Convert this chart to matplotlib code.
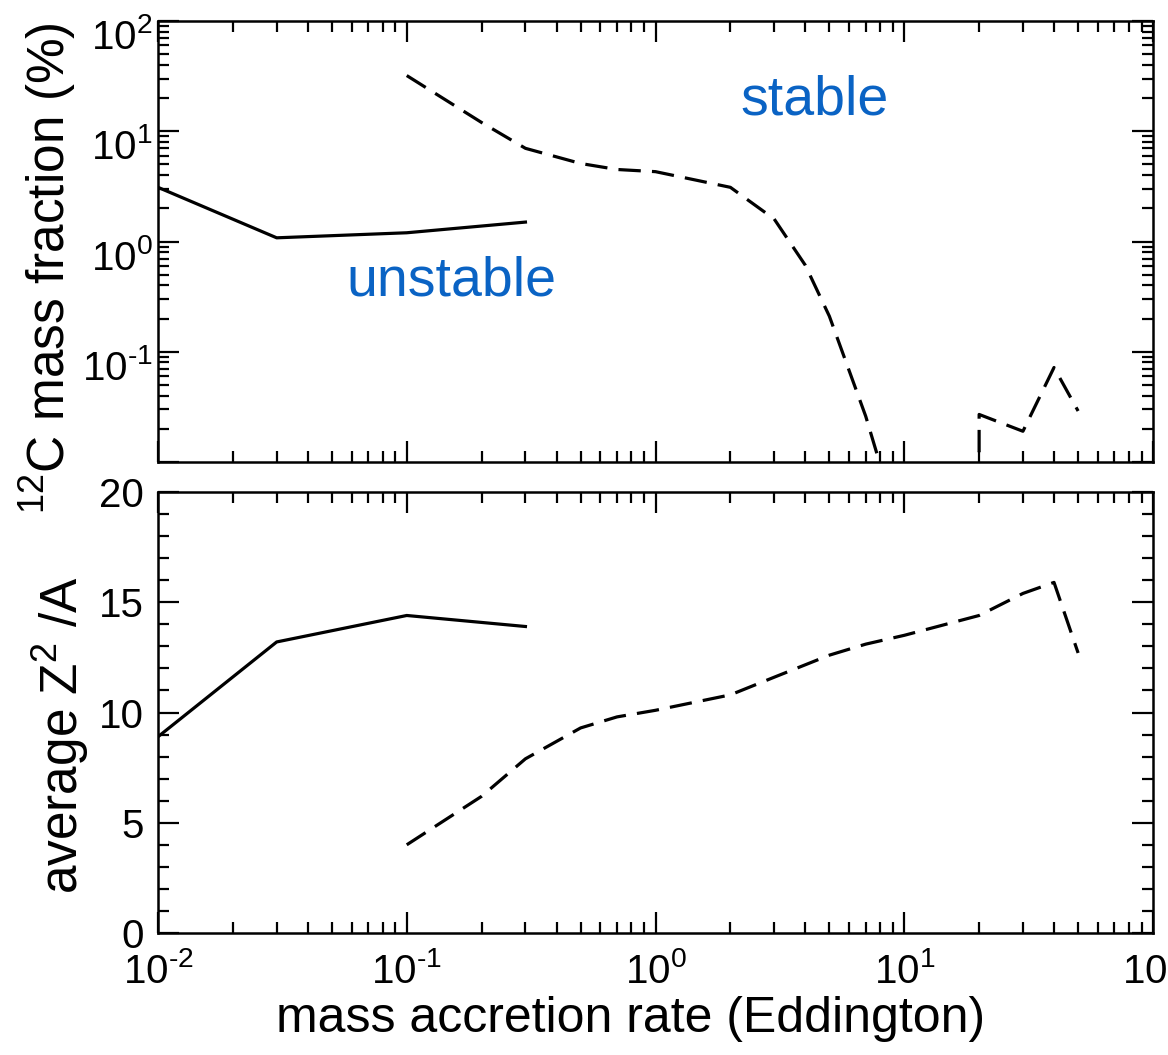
import numpy as np
import matplotlib
matplotlib.use('Agg')
import matplotlib.pyplot as plt
from matplotlib.ticker import FixedLocator, LogLocator, MultipleLocator, NullFormatter, FixedFormatter
from matplotlib.transforms import ScaledTranslation

plt.rcParams['font.family'] = ['Liberation Sans', 'DejaVu Sans']
plt.rcParams['mathtext.fontset'] = 'custom'
plt.rcParams['mathtext.rm'] = 'Liberation Sans'
plt.rcParams['mathtext.default'] = 'regular'

# верхняя панель: доля 12C (%)
unstable_rate = [0.01, 0.03, 0.1, 0.3]
unstable_c12 = [3.1, 1.08, 1.2, 1.5]
stable_rate = [0.1, 0.2, 0.3, 0.5, 0.7, 1, 2, 3, 4, 5, 7, 8, 10, 15, 20, 30, 40, 50]
stable_c12 = [32, 12, 7.0, 5.1, 4.5, 4.3, 3.1, 1.6, 0.61, 0.21, 0.026, 0.0095, 0, 0,
              0.027, 0.019, 0.072, 0.029]

# нижняя панель: средний Z^2/A
unstable_z2a = [8.9, 13.2, 14.4, 13.9]
stable_rate2 = [0.1, 0.2, 0.3, 0.5, 0.7, 1, 2, 3, 5, 7, 10, 20, 30, 40, 50]
stable_z2a = [4.0, 6.2, 7.9, 9.3, 9.8, 10.1, 10.8, 11.6, 12.6, 13.1, 13.5, 14.4, 15.4, 15.9, 12.7]

x_ticks = [1e-2, 1e-1, 1e0, 1e1, 1e2]
x_labels = [r'$10^{\text{-}2}$', r'$10^{\text{-}1}$', '$10^{0}$', '$10^{1}$', '$10^{2}$']
y_ticks_top = [1e-2, 1e-1, 1e0, 1e1, 1e2]
y_labels_top = ['', r'$10^{\text{-}1}$', '$10^{0}$', '$10^{1}$', '$10^{2}$']

W, H = 1168, 1055
fig = plt.figure(figsize=(W / 100, H / 100), dpi=100)
left, right = 158, 1153
ax1 = fig.add_axes([left / W, 1 - 462 / H, (right - left) / W, (462 - 21) / H])
ax2 = fig.add_axes([left / W, 1 - 933 / H, (right - left) / W, (933 - 492) / H])

dash = (0, (7, 3.5))
lw = 2.3

ax1.set_yscale('log', nonpositive='clip')
for ax in (ax1, ax2):
    ax.set_xscale('log')
    ax.set_xlim(1e-2, 1e2)
    ax.xaxis.set_major_locator(FixedLocator(x_ticks))
    ax.xaxis.set_minor_locator(LogLocator(base=10, subs=np.arange(2, 10), numticks=20))
    ax.xaxis.set_minor_formatter(NullFormatter())
    ax.tick_params(which='both', direction='in', top=True, right=True, width=1.6, labelsize=29)
    ax.tick_params(which='major', length=15)
    ax.tick_params(which='minor', length=8)
    for s in ax.spines.values():
        s.set_linewidth(1.8)

ax1.plot(unstable_rate, unstable_c12, color='black', lw=lw)
ax1.plot(stable_rate, stable_c12, color='black', lw=lw, linestyle=dash)
ax1.set_ylim(1e-2, 1e2)
ax1.yaxis.set_major_locator(FixedLocator(y_ticks_top))
ax1.yaxis.set_major_formatter(FixedFormatter(y_labels_top))
ax1.yaxis.set_minor_locator(LogLocator(base=10, subs=np.arange(2, 10), numticks=20))
ax1.yaxis.set_minor_formatter(NullFormatter())
ax1.tick_params(axis='x', labelbottom=False)
ax1.tick_params(axis='y', pad=4)

ax2.plot(unstable_rate, unstable_z2a, color='black', lw=lw)
ax2.plot(stable_rate2, stable_z2a, color='black', lw=lw, linestyle=dash)
ax2.set_ylim(0, 20)
ax2.yaxis.set_major_locator(MultipleLocator(5))
ax2.yaxis.set_minor_locator(MultipleLocator(1))
ax2.xaxis.set_major_formatter(FixedFormatter(x_labels))
ax2.tick_params(axis='x', pad=14)
ax2.tick_params(axis='y', pad=10)

# сдвигаем подписи оси y верхней панели вниз, как в оригинале
for lab in ax1.get_yticklabels():
    lab.set_transform(lab.get_transform() + ScaledTranslation(0, -9 / 72, fig.dpi_scale_trans))

ax1.text(0.66, 0.82, 'stable', transform=ax1.transAxes, color='#0a63c4',
         fontsize=40, ha='center', va='center')
ax1.text(0.295, 0.41, 'unstable', transform=ax1.transAxes, color='#0a63c4',
         fontsize=40, ha='center', va='center')

fig.text(65 / W, 1 - 268 / H, '$^{12}$C mass fraction (%)', rotation=90,
         rotation_mode='anchor', ha='center', va='baseline', fontsize=37)
fig.text(78 / W, 1 - 735 / H, 'average Z$^{2}$ /A', rotation=90,
         rotation_mode='anchor', ha='center', va='baseline', fontsize=37)
fig.text(631 / W, 1 - 1032 / H, 'mass accretion rate (Eddington)',
         ha='center', va='baseline', fontsize=36)

fig.savefig('out.png', dpi=100, facecolor='white')
